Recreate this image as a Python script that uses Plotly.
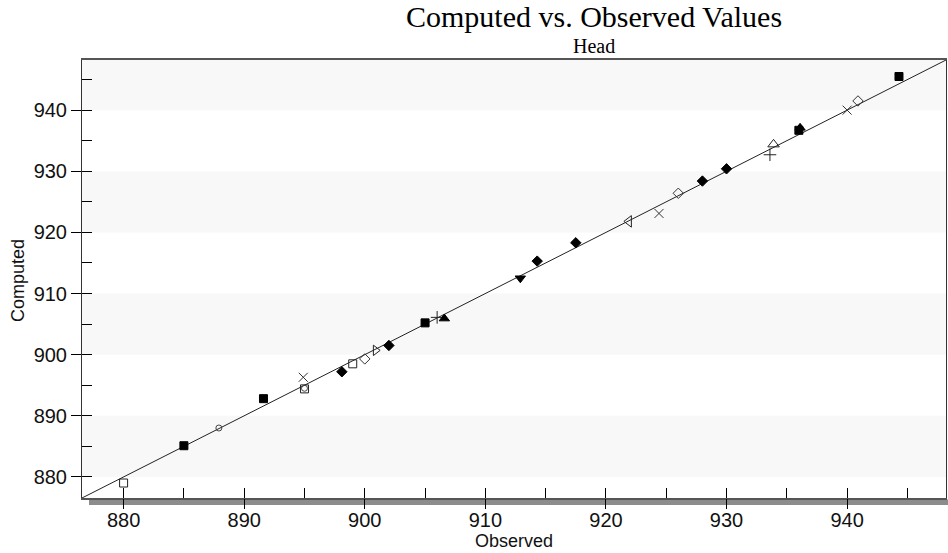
import plotly.graph_objects as go

# Observed vs computed head values, grouped by marker style
filled_sq_obs = [885.0, 891.6, 905.0, 936.0, 944.3]
filled_sq_cmp = [885.1, 892.8, 905.2, 936.7, 945.5]

open_sq_obs = [880.0, 895.0, 899.0]
open_sq_cmp = [879.0, 894.4, 898.5]

filled_dm_obs = [898.1, 902.0, 914.3, 917.5, 928.0, 930.0]
filled_dm_cmp = [897.2, 901.5, 915.3, 918.3, 928.4, 930.4]

open_dm_obs = [900.0, 926.0, 940.9]
open_dm_cmp = [899.3, 926.4, 941.5]

open_ci_obs = [887.9, 895.0]
open_ci_cmp = [888.0, 894.5]

x_obs = [894.9, 924.4, 940.0]
x_cmp = [896.3, 923.1, 940.0]

plus_obs = [906.0, 933.6]
plus_cmp = [906.1, 932.7]

tri_up_obs = [906.6, 936.1]
tri_up_cmp = [905.9, 937.1]

tri_up_open_obs = [933.9]
tri_up_open_cmp = [934.4]

tri_left_open_obs = [921.9]
tri_left_open_cmp = [921.8]

tri_right_open_obs = [900.9]
tri_right_open_cmp = [900.7]

tri_down_obs = [912.9]
tri_down_cmp = [912.5]

major_ticks = [880, 890, 900, 910, 920, 930, 940]
axis_range = [876.55, 948.2]

W, H = 948, 553
ML, MR, MT, MB = 82, 2, 60, 55
PW, PH = W - ML - MR, H - MT - MB


def px_x(px):
    return (px - ML) / PW


def px_y(py):
    return (H - MB - py) / PH


fig = go.Figure()

# 1:1 reference line across the full axis range
fig.add_trace(go.Scatter(x=axis_range, y=axis_range, mode="lines",
                         line=dict(color="#222222", width=1), showlegend=False,
                         hoverinfo="skip"))

series = [
    (filled_sq_obs, filled_sq_cmp, "square", 8, "black"),
    (open_sq_obs, open_sq_cmp, "square-open", 8, "#222222"),
    (filled_dm_obs, filled_dm_cmp, "diamond", 8, "black"),
    (open_dm_obs, open_dm_cmp, "diamond-open", 8, "#333333"),
    (open_ci_obs, open_ci_cmp, "circle-open", 6, "#444444"),
    (x_obs, x_cmp, "x-thin-open", 9, "#333333"),
    (plus_obs, plus_cmp, "cross-thin-open", 9, "#222222"),
    (tri_up_obs, tri_up_cmp, "triangle-up", 9, "black"),
    (tri_up_open_obs, tri_up_open_cmp, "triangle-up-open", 10, "#222222"),
    (tri_left_open_obs, tri_left_open_cmp, "triangle-left-open", 10, "#222222"),
    (tri_right_open_obs, tri_right_open_cmp, "triangle-right-open", 9, "#222222"),
    (tri_down_obs, tri_down_cmp, "triangle-down", 9, "black"),
]
for xs, ys, sym, size, col in series:
    fig.add_trace(go.Scatter(
        x=xs, y=ys, mode="markers", showlegend=False,
        marker=dict(symbol=sym, size=size, color=col,
                    line=dict(color=col, width=1)),
    ))

# empty traces so the overlaid tick-only axes get drawn
fig.add_trace(go.Scatter(x=[], y=[], xaxis="x2", yaxis="y", showlegend=False))
fig.add_trace(go.Scatter(x=[], y=[], xaxis="x3", yaxis="y", showlegend=False))

# alternating horizontal bands between major ticks
band_edges = major_ticks + [axis_range[1]]
shapes = []
for i, lo in enumerate(band_edges[:-1]):
    hi = band_edges[i + 1]
    if i % 2 == 0:
        shapes.append(dict(type="rect", xref="paper", yref="y", x0=0, x1=1,
                           y0=lo, y1=hi, fillcolor="#f8f8f8", line_width=0,
                           layer="below"))

# drop shadow under the bottom axis
shapes.append(dict(type="rect", xref="paper", yref="paper",
                   x0=px_x(89), x1=px_x(948), y0=px_y(505), y1=px_y(499.5),
                   fillcolor="#8c8c8c", line_width=0, layer="below"))

tick_font = dict(family="Liberation Sans, Arial, sans-serif", size=20, color="#111111")

fig.update_layout(
    width=W, height=H,
    margin=dict(l=ML, r=MR, t=MT, b=MB, pad=0),
    paper_bgcolor="white", plot_bgcolor="white",
    shapes=shapes,
    # labelled bottom axis (ticks drawn by the overlays below)
    xaxis=dict(range=axis_range, tickvals=major_ticks, ticks="",
               ticklabelstandoff=3,
               showgrid=False, zeroline=False, showline=True,
               linecolor="#555555", linewidth=2, mirror=True,
               tickfont=tick_font),
    # inner ticks every 5 units
    xaxis2=dict(range=axis_range, overlaying="x", anchor="y", side="bottom",
                dtick=5, tick0=0, ticks="inside", ticklen=10, tickwidth=1,
                tickcolor="black", showticklabels=False, showgrid=False,
                zeroline=False, showline=False),
    # outer ticks at the labelled values
    xaxis3=dict(range=axis_range, overlaying="x", anchor="y", side="bottom",
                tickvals=major_ticks, ticks="outside", ticklen=10, tickwidth=1,
                tickcolor="black", showticklabels=False, showgrid=False,
                zeroline=False, showline=False),
    yaxis=dict(range=axis_range, tickvals=major_ticks, ticks="outside",
               ticklen=10, tickwidth=1, tickcolor="black",
               minor=dict(dtick=5, tick0=0, ticks="inside", ticklen=10,
                          tickwidth=1, tickcolor="black", showgrid=False),
               showgrid=False, zeroline=False, showline=True,
               linecolor="#333333", linewidth=1, mirror=True,
               tickfont=tick_font),
    annotations=[
        dict(text="Computed vs. Observed Values", xref="paper", yref="paper",
             x=px_x(594), y=px_y(17), xanchor="center", yanchor="middle",
             showarrow=False, borderpad=0,
             font=dict(family="Liberation Serif, Times New Roman, serif",
                       size=30, color="black")),
        dict(text="Head", xref="paper", yref="paper",
             x=px_x(594), y=px_y(46), xanchor="center", yanchor="middle",
             showarrow=False, borderpad=0,
             font=dict(family="Liberation Serif, Times New Roman, serif",
                       size=20, color="black")),
        dict(text="Observed", xref="paper", yref="paper",
             x=px_x(514), y=px_y(541), xanchor="center", yanchor="middle",
             showarrow=False,
             font=dict(family="Liberation Sans, Arial, sans-serif", size=18,
                       color="#111111")),
        dict(text="Computed", xref="paper", yref="paper",
             x=px_x(18), y=px_y(281), xanchor="center", yanchor="middle",
             textangle=-90, showarrow=False,
             font=dict(family="Liberation Sans, Arial, sans-serif", size=18,
                       color="#111111")),
    ],
)

fig.write_html("out.html")
